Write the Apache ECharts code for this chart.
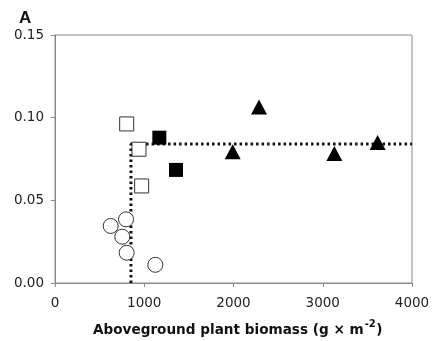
<!DOCTYPE html>
<html><head><meta charset="utf-8">
<script src="https://cdn.jsdelivr.net/npm/echarts@6/dist/echarts.min.js"></script>
<style>html,body{margin:0;padding:0;background:#fff}#c{width:439px;height:341px}</style>
</head><body><div id="c"></div>
<script>
var openCircles = [[624,0.0345],[796,0.0385],[754,0.028],[803,0.0183],[1124,0.011]];
var openSquares = [[803,0.0962],[941,0.0809],[971,0.0587]];
var filledSquares = [[1169,0.0879],[1356,0.0684]];
var triangles = [[2286,0.1065],[1991,0.0794],[3130,0.0784],[3615,0.085]];
var breakX = 851;
var plateauY = 0.084;
var xMax = 4000;
var xTicks = [0,1000,2000,3000,4000];
var yTicks = [0.00,0.05,0.10,0.15];
var xNameMain = 'Aboveground plant biomass (g × m';
var xNameSup = '-2';
var xNameEnd = ')';

var chart = echarts.init(document.getElementById('c'));
var axisCol = '#8a8a8a';
var tickFont = {fontFamily:'DejaVu Sans',fontSize:13.5,color:'#222'};

var mainFont = 'bold 13.6px "DejaVu Sans"';
var supFont = 'bold 10px "DejaVu Sans"';
var ctx = document.createElement('canvas').getContext('2d');
ctx.font = mainFont; var wMain = ctx.measureText(xNameMain).width;
ctx.font = supFont; var wSup = ctx.measureText(xNameSup).width;
var nx = 93, nyMain = 330, nySup = 324;

chart.setOption({
  animation:false,
  title:{text:'A',left:14,top:5,textStyle:{fontFamily:'Liberation Sans',fontWeight:'bold',fontSize:17,color:'#111'}},
  grid:{left:55,right:27,top:35,bottom:58,show:true,borderColor:axisCol,borderWidth:1},
  graphic:[
    {type:'text',x:nx,y:nyMain,style:{text:xNameMain,font:mainFont,fill:'#111',verticalAlign:'middle',align:'left'}},
    {type:'text',x:nx+wMain+1,y:nySup,style:{text:xNameSup,font:supFont,fill:'#111',verticalAlign:'middle',align:'left'}},
    {type:'text',x:nx+wMain+1+wSup+0.5,y:nyMain,style:{text:xNameEnd,font:mainFont,fill:'#111',verticalAlign:'middle',align:'left'}}
  ],
  xAxis:{type:'value',min:xTicks[0],max:xTicks[xTicks.length-1],interval:1000,
    axisLine:{show:true,lineStyle:{color:axisCol}},axisTick:{show:true,inside:false,length:4,lineStyle:{color:axisCol}},
    splitLine:{show:false},
    axisLabel:Object.assign({margin:13,formatter:function(v){return String(v);}},tickFont)},
  yAxis:{type:'value',min:yTicks[0],max:yTicks[yTicks.length-1],interval:0.05,
    axisLine:{show:true,lineStyle:{color:axisCol}},axisTick:{show:true,inside:false,length:4,lineStyle:{color:axisCol}},
    splitLine:{show:false},
    axisLabel:Object.assign({margin:11,formatter:function(v){return v.toFixed(2);}},tickFont)},
  series:[
    {type:'line',data:[[breakX,0],[breakX,plateauY],[xMax,plateauY]],symbol:'none',z:1,
      lineStyle:{color:'#111',width:3,type:[2.5,3]}},
    {type:'scatter',data:openCircles,symbol:'circle',symbolSize:15,z:3,
      itemStyle:{color:'#fff',borderColor:'#333',borderWidth:1,opacity:1}},
    {type:'scatter',data:openSquares,symbol:'rect',symbolSize:14,z:3,
      itemStyle:{color:'#fff',borderColor:'#333',borderWidth:1,opacity:1}},
    {type:'scatter',data:filledSquares,symbol:'rect',symbolSize:14,z:3,
      itemStyle:{color:'#000',opacity:1}},
    {type:'scatter',data:triangles,symbol:'triangle',symbolSize:[16,15],z:3,
      itemStyle:{color:'#000',opacity:1}}
  ]
});
</script></body></html>
